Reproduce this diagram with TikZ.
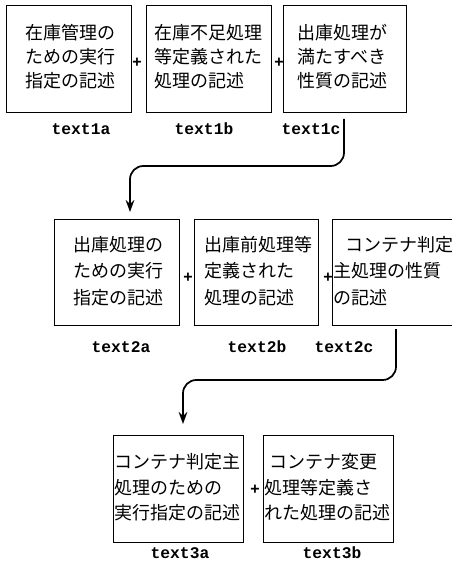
\documentclass[tikz,border=0pt]{standalone}
\usepackage{fontspec}
\newfontfamily\cjk{Noto Sans CJK JP}
\newfontfamily\lblfont{Liberation Mono}
\newfontfamily\plusfont{Liberation Sans}
\usetikzlibrary{arrows.meta}
\begin{document}
\begin{tikzpicture}[x=0.75pt,y=-0.75pt,
  box/.style={draw, line width=0.65pt, inner sep=0pt},
  jtxt/.style={anchor=west, align=left, inner sep=0pt},
  jA/.style={jtxt, font=\cjk\fontsize{13.5}{18}\selectfont},
  jB/.style={jtxt, font=\cjk\fontsize{13.5}{20}\selectfont},
  jC/.style={jtxt, font=\cjk\fontsize{13.5}{19}\selectfont},
  lab/.style={font=\lblfont\bfseries\fontsize{12.2}{14}\selectfont, inner sep=0pt},
  plus/.style={font=\plusfont\bfseries\fontsize{12}{12}\selectfont, inner sep=0pt},
  conn/.style={line width=1.3pt, rounded corners=10pt, -{Stealth[length=9pt,width=6.5pt]}}]
\useasboundingbox (0,0) rectangle (452,566);
\clip (0,0) rectangle (452,566);
\fill[white] (0,0) rectangle (452,566);

% row 1
\node[box, minimum width=93.75pt, minimum height=80.25pt] (b1a) at (68.5,58.5) {};
\node[box, minimum width=93.75pt, minimum height=80.25pt] (b1b) at (208.5,58.5) {};
\node[box, minimum width=92.25pt, minimum height=80.25pt] (b1c) at (344.5,58.5) {};
\node[jA] (t1a) at (25,57) {在庫管理の\\ための実行\\指定の記述};
\node[jA] (t1b) at (154,57) {在庫不足処理\\等定義された\\処理の記述};
\node[jA] (t1c) at (297,57) {出庫処理が\\満たすべき\\性質の記述};
\node[plus] (p1a) at (137,63) {+};
\node[plus] (p1b) at (279,63) {+};
\node[lab] (l1a) at (81,129) {text1a};
\node[lab] (l1b) at (204,129) {text1b};
\node[lab] (l1c) at (311,129) {text1c};

% row 2
\node[box, minimum width=93.75pt, minimum height=79.5pt] (b2a) at (116.5,272) {};
\node[box, minimum width=93pt, minimum height=79.5pt] (b2b) at (256,272) {};
\node[box, minimum width=93.75pt, minimum height=79.5pt] (b2c) at (394.5,272) {};
\node[jB] (t2a) at (73,271) {出庫処理の\\ための実行\\指定の記述};
\node[jB] (t2b) at (204,271) {出庫前処理等\\定義された\\処理の記述};
\node[jB] (t2c) at (333,271) {\hspace*{9pt}コンテナ判定\\主処理の性質\\の記述};
\node[plus] (p2a) at (188,278) {+};
\node[plus] (p2b) at (328,278) {+};
\node[lab] (l2a) at (121,347) {text2a};
\node[lab] (l2b) at (257,347) {text2b};
\node[lab] (l2c) at (344,347) {text2c};

% row 3
\node[box, minimum width=97.5pt, minimum height=80.25pt] (b3a) at (178,488.5) {};
\node[box, minimum width=97.5pt, minimum height=80.25pt] (b3b) at (328,488.5) {};
\node[jC] (t3a) at (114,487.5) {コンテナ判定主\\処理のための\\実行指定の記述};
\node[jC] (t3b) at (264,487.5) {\hspace*{4pt}コンテナ変更\\処理等定義さ\\れた処理の記述};
\node[plus] (p3a) at (255,490) {+};
\node[lab] (l3a) at (180,553) {text3a};
\node[lab] (l3b) at (332,553) {text3b};

% connectors
\coordinate (c1s) at (344,119);
\coordinate (c1e) at (130,212);
\coordinate (c2s) at (396,329);
\coordinate (c2e) at (183,424);
\draw[conn] (c1s) |- (237,166) -| (c1e);
\draw[conn] (c2s) |- (290,380) -| (c2e);
\end{tikzpicture}
\end{document}
